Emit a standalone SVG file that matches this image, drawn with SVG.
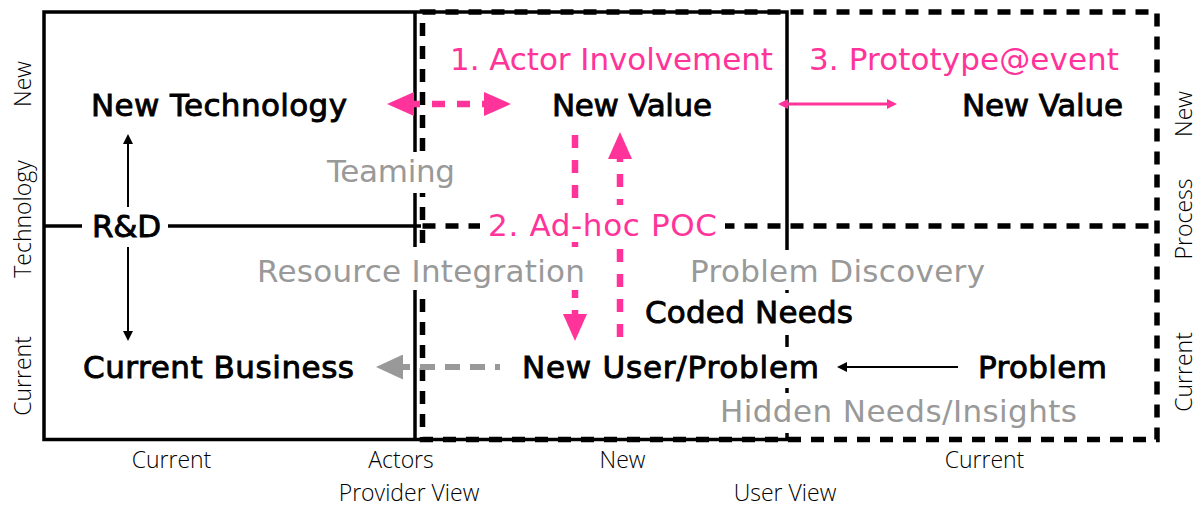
<svg xmlns="http://www.w3.org/2000/svg" width="1197" height="509" viewBox="0 0 1197 509">
  <style>
    .solid{fill:none;stroke:#000;stroke-width:3.5}
    .dash{fill:none;stroke:#000;stroke-width:5.5;stroke-dasharray:13 10}
    .bg{fill:#fff}
    text{font-family:"DejaVu Sans","Liberation Sans",sans-serif;text-anchor:middle}
    .node{font-size:31px;fill:#000;stroke:#000;stroke-width:0.9}
    .pink{font-size:31px;fill:#ff3399}
    .gray{font-size:31px;fill:#999}
    .axis{font-family:"Open Sans","DejaVu Sans",sans-serif;font-size:23px;font-weight:300;fill:#000}
    .pk-dash{fill:none;stroke:#ff3399;stroke-width:6.5;stroke-dasharray:13 12}
    .pk-thin{fill:none;stroke:#ff3399;stroke-width:3}
    .bk-thin{fill:none;stroke:#000;stroke-width:2}
    .gr-dash{fill:none;stroke:#999;stroke-width:6;stroke-dasharray:15 10}
  </style>
  <defs>
    <marker id="pkHead" viewBox="0 -12 27 24" refX="1" refY="0" markerUnits="userSpaceOnUse" markerWidth="27" markerHeight="24" orient="auto-start-reverse">
      <path d="M0,-12 L27,0 L0,12 z" fill="#ff3399"/>
    </marker>
    <marker id="pkSmall" viewBox="0 -5 10 10" refX="1" refY="0" markerUnits="userSpaceOnUse" markerWidth="10" markerHeight="10" orient="auto-start-reverse">
      <path d="M0,-5 L10,0 L0,5 z" fill="#ff3399"/>
    </marker>
    <marker id="bkHead" viewBox="0 -5 10 10" refX="1" refY="0" markerUnits="userSpaceOnUse" markerWidth="10" markerHeight="10" orient="auto">
      <path d="M0,-5 L10,0 L0,5 z" fill="#000"/>
    </marker>
    <marker id="grHead" viewBox="0 -12.5 27 25" refX="1" refY="0" markerUnits="userSpaceOnUse" markerWidth="27" markerHeight="25" orient="auto">
      <path d="M0,-12.5 L27,0 L0,12.5 z" fill="#999"/>
    </marker>
  </defs>

  <!-- quadrant frames: provider view (solid) and user view (dashed) -->
  <g id="frame">
    <rect class="solid" x="44" y="12" width="743" height="427.5"/>
    <line class="solid" x1="415" y1="12" x2="415" y2="439.5"/>
    <line class="solid" x1="44" y1="226" x2="421" y2="226"/>
    <rect class="dash" x="422.5" y="12" width="734.5" height="427.5"/>
    <line class="dash" x1="422.5" y1="226" x2="1157" y2="226"/>
  </g>

  <!-- axis captions -->
  <g id="axes">
    <text class="axis" transform="translate(31,84) rotate(-90)">New</text>
    <text class="axis" transform="translate(31,219) rotate(-90)">Technology</text>
    <text class="axis" transform="translate(31,376) rotate(-90)">Current</text>
    <text class="axis" transform="translate(1192,114) rotate(-90)">New</text>
    <text class="axis" transform="translate(1192,219) rotate(-90)">Process</text>
    <text class="axis" transform="translate(1192,372) rotate(-90)">Current</text>
    <text class="axis" x="171.5" y="468">Current</text>
    <text class="axis" x="401" y="468">Actors</text>
    <text class="axis" x="622.5" y="468">New</text>
    <text class="axis" x="984.5" y="468">Current</text>
    <text class="axis" x="409" y="501">Provider View</text>
    <text class="axis" x="785" y="501">User View</text>
  </g>

  <g id="connectors">
    <!-- R&D up / down -->
    <line class="bk-thin" x1="128" y1="207" x2="128" y2="143" marker-end="url(#bkHead)"/>
    <line class="bk-thin" x1="128" y1="247" x2="128" y2="332" marker-end="url(#bkHead)"/>
    <!-- Problem -> New User/Problem -->
    <line class="bk-thin" x1="958" y1="367" x2="846" y2="367" marker-end="url(#bkHead)"/>
    <!-- actor involvement -->
    <line class="pk-dash" x1="413" y1="104" x2="485" y2="104" stroke-dashoffset="6" marker-start="url(#pkHead)" marker-end="url(#pkHead)"/>
    <!-- prototype@event -->
    <line class="pk-thin" x1="787" y1="104" x2="888" y2="104" marker-start="url(#pkSmall)" marker-end="url(#pkSmall)"/>
    <!-- ad-hoc POC down / up -->
    <line class="pk-dash" x1="575" y1="135" x2="575" y2="315" marker-end="url(#pkHead)"/>
    <line class="pk-dash" x1="620" y1="337" x2="620" y2="158" marker-end="url(#pkHead)"/>
    <!-- resource integration back to current business -->
    <line class="gr-dash" x1="402" y1="367" x2="500" y2="367" stroke-dashoffset="7"/>
    <line x1="403" y1="367" x2="402" y2="367" stroke="#999" stroke-width="6" marker-end="url(#grHead)"/>
  </g>

  <!-- process labels on the connectors -->
  <g id="labels">
    <text class="pink" x="611.5" y="70" textLength="323">1. Actor Involvement</text>
    <text class="pink" x="964" y="70" textLength="310">3. Prototype@event</text>
    <rect class="bg" x="480" y="205" width="245" height="37"/>
    <text class="pink" x="602.5" y="236" textLength="229">2. Ad-hoc POC</text>
    <rect class="bg" x="322" y="152" width="140" height="41"/>
    <text class="gray" x="391" y="182" textLength="128">Teaming</text>
    <rect class="bg" x="250" y="247" width="340" height="43"/>
    <text class="gray" x="421" y="282" textLength="328">Resource Integration</text>
    <rect class="bg" x="684" y="250" width="306" height="40"/>
    <text class="gray" x="837.5" y="282" textLength="295">Problem Discovery</text>
    <rect class="bg" x="714" y="393" width="369" height="40"/>
    <text class="gray" x="898.5" y="422" textLength="357">Hidden Needs/Insights</text>
  </g>

  <g id="new-technology">
    <text class="node" x="219" y="116" textLength="256">New Technology</text>
  </g>
  <g id="new-value-provider">
    <text class="node" x="632" y="116" textLength="160">New Value</text>
  </g>
  <g id="new-value-user">
    <text class="node" x="1042.5" y="116" textLength="161">New Value</text>
  </g>
  <g id="rnd">
    <rect class="bg" x="82" y="208" width="86" height="37"/>
    <text class="node" x="126.5" y="237" textLength="69">R&amp;D</text>
  </g>
  <g id="current-business">
    <text class="node" x="218.5" y="378" textLength="271">Current Business</text>
  </g>
  <g id="coded-needs">
    <rect class="bg" x="640" y="293" width="218" height="42"/>
    <text class="node" x="749" y="323" textLength="208">Coded Needs</text>
  </g>
  <g id="new-user-problem">
    <rect class="bg" x="516" y="347" width="309" height="41"/>
    <text class="node" x="670.5" y="378" textLength="297">New User/Problem</text>
  </g>
  <g id="problem">
    <text class="node" x="1042.5" y="378" textLength="129">Problem</text>
  </g>
</svg>
